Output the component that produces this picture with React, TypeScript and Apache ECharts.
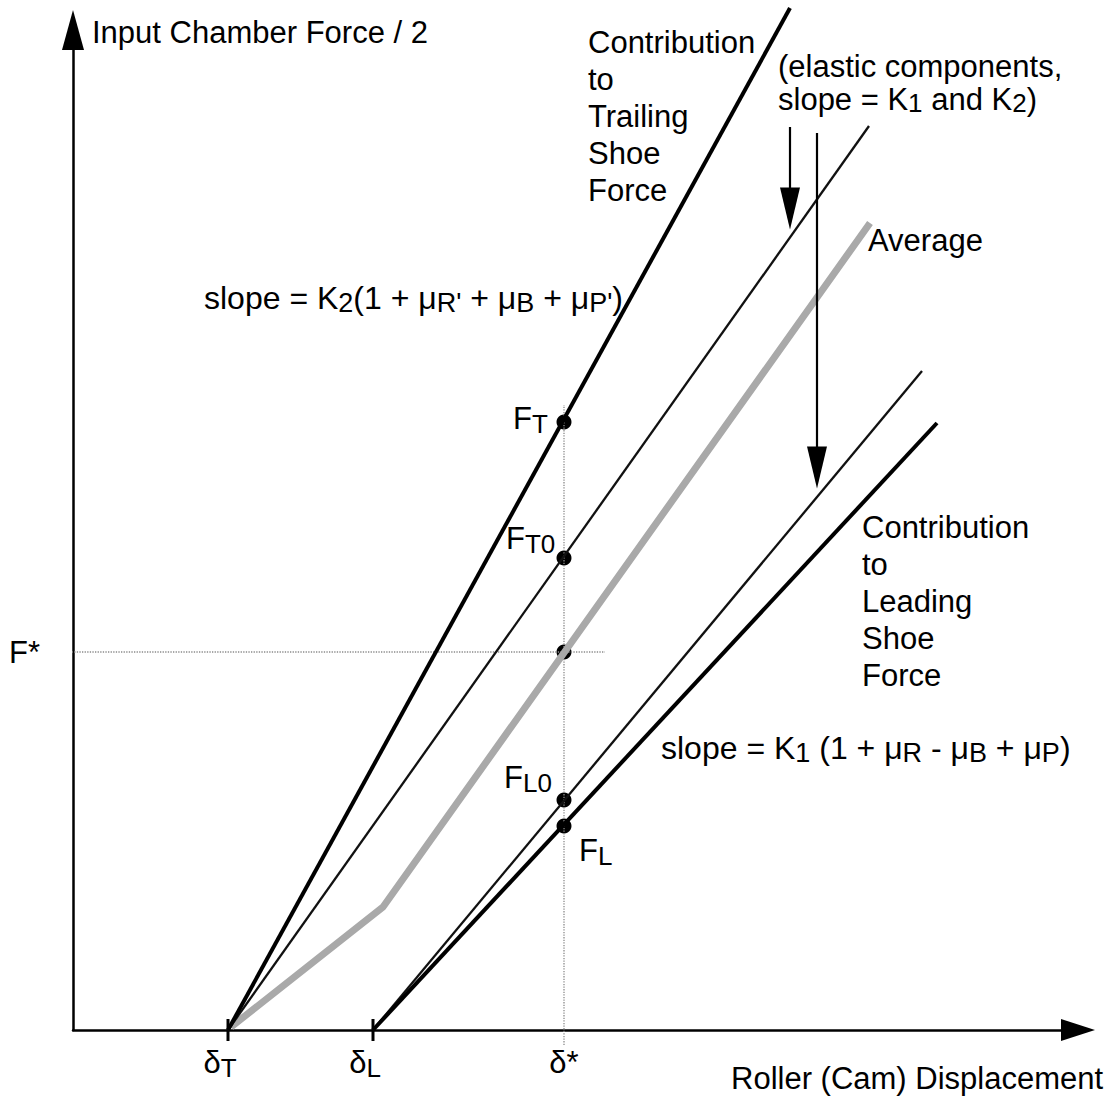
import React, { useEffect, useRef } from "react";
import * as echarts from "echarts";

const FONT = "'Liberation Sans', Arial, Helvetica, sans-serif";

// Diagram values (x: roller displacement units, y: force units)
const trailingForceX = [15.5, 71.7];
const trailingForceY = [0, 102.2];
const elasticK2X = [15.5, 79.6];
const elasticK2Y = [0, 90.4];
const averageX = [15.8, 31, 79.7];
const averageY = [0.3, 12.3, 80.7];
const elasticK1X = [30, 84.9];
const elasticK1Y = [0, 65.9];
const leadingForceX = [30, 86.4];
const leadingForceY = [0, 60.7];

const pointX = [49.1, 49.1, 49.1, 49.1, 49.1];
const pointY = [60.8, 47.2, 37.8, 23.0, 20.4];

const guideVX = [49.1, 49.1];
const guideVY = [-1.5, 62.5];
const guideHX = [-1.7, 53.2];
const guideHY = [37.8, 37.8];

const arrowK2X = [71.7, 71.7];
const arrowK2Y = [90.3, 83.5];
const arrowK1X = [74.4, 74.4];
const arrowK1Y = [89.7, 57.5];
const arrowHeadX = [71.7, 74.4];
const arrowHeadY = [82.15, 56.25];

const tickMarksX = [15.5, 30];
const xLabelValues = [15.5, 30, 49.1];
const xLabelTexts = ["{m|δ}{s|T}{sp| }", "{m|δ}{s|L}{sp| }", "{m|δ*}"];
const yLabelValues = [37.8];
const yLabelTexts = ["F*"];

const zip = (xs: number[], ys: number[]) => xs.map((x, i) => [x, ys[i]]);

const makeRich = (lh: number, fs: number) => ({
  m: { fontSize: fs, fontFamily: FONT, lineHeight: lh, fill: "#000" },
  s: { fontSize: Math.round(fs * 0.84), fontFamily: FONT, lineHeight: 14, verticalAlign: "bottom", fill: "#000" },
});

const txt = (x: number, y: number, text: string, va: string = "middle", lh: number = 37, fs: number = 31) => ({
  type: "text",
  x,
  y,
  silent: true,
  style: {
    text,
    fill: "#000",
    fontSize: fs,
    fontFamily: FONT,
    lineHeight: lh,
    align: "left",
    verticalAlign: va,
    rich: makeRich(lh, fs),
  },
});

export default function App() {
  const ref = useRef<HTMLDivElement>(null);
  useEffect(() => {
    if (!ref.current) return;
    const chart = echarts.init(ref.current, null, { renderer: "svg" });
    const line = (name: string, xs: number[], ys: number[], width: number, color = "#000") => ({
      name,
      type: "line",
      data: zip(xs, ys),
      symbol: "none",
      clip: false,
      silent: true,
      lineStyle: { color, width, cap: "butt" },
    });
    const dots = (name: string, data: number[][], symbol: string, size: any, rotate = 0) => ({
      name,
      type: "scatter",
      data,
      symbol,
      symbolSize: size,
      symbolRotate: rotate,
      clip: false,
      silent: true,
      itemStyle: { color: "#000", opacity: 1 },
    });
    chart.setOption({
      animation: false,
      backgroundColor: "#fff",
      grid: { left: 73, right: 34, top: 30, bottom: 72, outerBoundsMode: "none" },
      xAxis: {
        type: "value",
        min: 0,
        max: 100.5,
        splitLine: { show: false },
        axisTick: { show: false },
        axisLine: {
          show: true,
          onZero: false,
          symbol: ["none", "triangle"],
          symbolSize: [22, 34],
          lineStyle: { color: "#000", width: 2.5 },
        },
        axisLabel: {
          show: true,
          customValues: xLabelValues,
          margin: 14,
          formatter: (v: number) => {
            const i = xLabelValues.findIndex((t) => Math.abs(t - v) < 1e-6);
            return i >= 0 ? xLabelTexts[i] : "";
          },
          rich: {
            m: { fontSize: 31, fontFamily: FONT, lineHeight: 37, color: "#000" },
            s: { fontSize: 26, fontFamily: FONT, lineHeight: 14, verticalAlign: "bottom", color: "#000" },
            sp: { fontSize: 25, width: 16 },
          },
        },
      },
      yAxis: {
        type: "value",
        min: 0,
        max: 100,
        splitLine: { show: false },
        axisTick: { show: false },
        axisLine: {
          show: true,
          onZero: false,
          symbol: ["none", "triangle"],
          symbolSize: [22, 40],
          lineStyle: { color: "#000", width: 2.5 },
        },
        axisLabel: {
          show: true,
          customValues: yLabelValues,
          margin: 33,
          fontSize: 31,
          fontFamily: FONT,
          color: "#000",
          formatter: (v: number) => {
            const i = yLabelValues.findIndex((t) => Math.abs(t - v) < 1e-6);
            return i >= 0 ? yLabelTexts[i] : "";
          },
        },
      },
      series: [
        {
          name: "guideV",
          type: "line",
          data: zip(guideVX, guideVY),
          symbol: "none",
          clip: false,
          silent: true,
          lineStyle: { color: "#8a8a8a", width: 1.3, type: "dotted" },
        },
        {
          name: "guideH",
          type: "line",
          data: zip(guideHX, guideHY),
          symbol: "none",
          clip: false,
          silent: true,
          lineStyle: { color: "#8a8a8a", width: 1.3, type: "dotted" },
        },
        line("Average", averageX, averageY, 7, "#a9a9a9"),
        line("Elastic K2", elasticK2X, elasticK2Y, 2.3, "#111"),
        line("Elastic K1", elasticK1X, elasticK1Y, 2.3, "#111"),
        line("Trailing", trailingForceX, trailingForceY, 4),
        line("Leading", leadingForceX, leadingForceY, 4),
        line("ArrowK2", arrowK2X, arrowK2Y, 2.2),
        line("ArrowK1", arrowK1X, arrowK1Y, 2.2),
        dots("arrowHeads", zip(arrowHeadX, arrowHeadY), "triangle", [20, 42], 180),
        dots("ticks", tickMarksX.map((x) => [x, 0]), "rect", [3, 22]),
        dots("points", zip(pointX, pointY), "circle", 15),
      ],
      graphic: [
        txt(92, 32, "Input Chamber Force / 2"),
        txt(588, 23.5, "Contribution\nto\nTrailing\nShoe\nForce", "top"),
        txt(778, 50, "{m|(elastic components,}\n{m|slope = K}{s|1}{m| and K}{s|2}{m|)}", "top", 33),
        txt(868, 240, "Average"),
        txt(204, 298, "{m|slope = K}{s|2}{m|(1 + μ}{s|R'}{m| + μ}{s|B}{m| + μ}{s|P'}{m|)}", "middle", 37, 32),
        txt(513, 418, "{m|F}{s|T}"),
        txt(506, 538, "{m|F}{s|T0}"),
        txt(862, 508.5, "Contribution\nto\nLeading\nShoe\nForce", "top"),
        txt(661, 748, "{m|slope = K}{s|1}{m| (1 + μ}{s|R}{m| - μ}{s|B}{m| + μ}{s|P}{m|)}", "middle", 37, 32),
        txt(504, 777, "{m|F}{s|L0}"),
        txt(579, 850, "{m|F}{s|L}"),
        txt(731, 1078, "Roller (Cam) Displacement"),
      ],
    });
    return () => chart.dispose();
  }, []);
  return (
    <div
      ref={ref}
      style={{ position: "absolute", left: 0, top: 0, width: 1112, height: 1102 }}
    />
  );
}
